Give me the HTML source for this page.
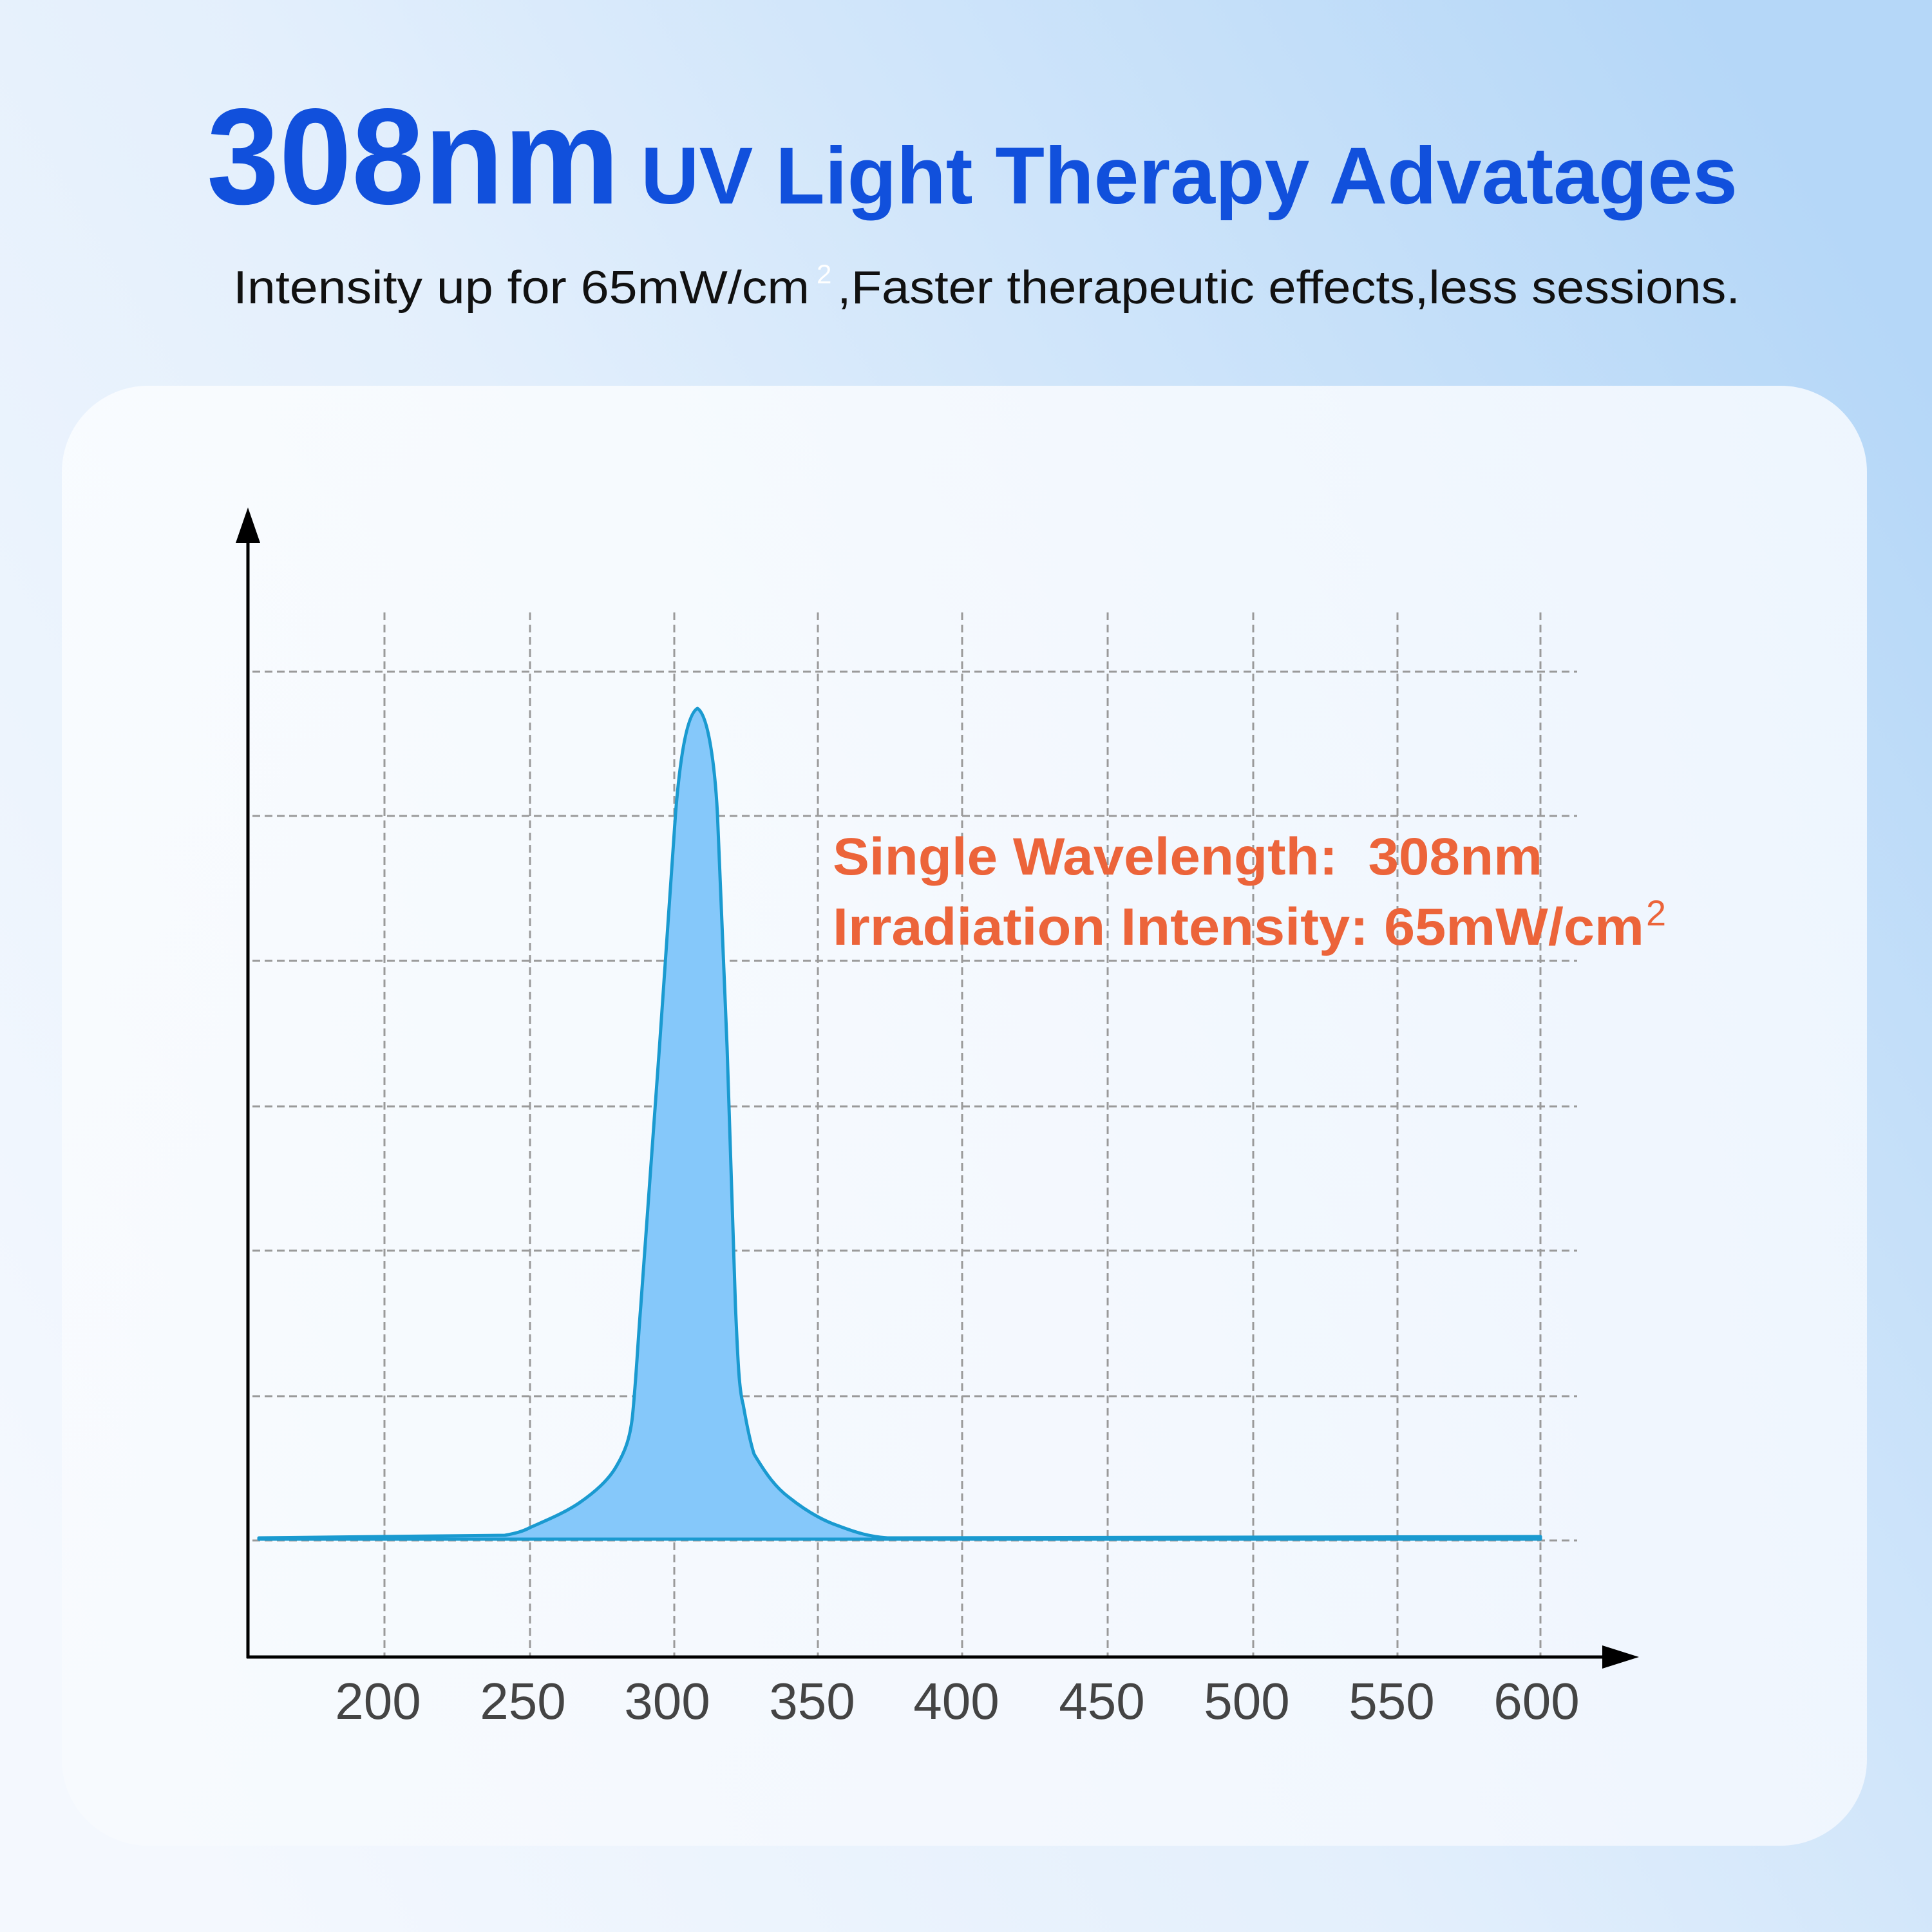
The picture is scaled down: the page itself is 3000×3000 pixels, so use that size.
<!DOCTYPE html>
<html><head><meta charset="utf-8"><style>
html,body{margin:0;padding:0;width:3000px;height:3000px;overflow:hidden}
body{background:#e6f1fc}
</style></head><body>
<svg width="3000" height="3000" viewBox="0 0 3000 3000" xmlns="http://www.w3.org/2000/svg" style="position:absolute;left:0;top:0">
<defs>
<linearGradient id="bg" x1="0" y1="0.8" x2="1" y2="0.2">
<stop offset="0" stop-color="#f4f8fe"/><stop offset="0.45" stop-color="#e3effc"/><stop offset="0.8" stop-color="#c6e0f9"/><stop offset="1" stop-color="#b5d7f8"/>
</linearGradient>
<linearGradient id="card" x1="0" y1="0" x2="1" y2="1">
<stop offset="0" stop-color="#fbfdff" stop-opacity="0.85"/><stop offset="1" stop-color="#f4f8fe" stop-opacity="0.85"/>
</linearGradient>
</defs>
<rect width="3000" height="3000" fill="url(#bg)"/>
<rect x="96" y="599" width="2803" height="2267" rx="134" fill="url(#card)"/>
<text x="321" y="316" font-family="Liberation Sans, sans-serif" font-weight="bold" font-size="212" fill="#1150dc" textLength="641" lengthAdjust="spacingAndGlyphs">308nm</text>
<text x="995" y="316" font-family="Liberation Sans, sans-serif" font-weight="bold" font-size="125" fill="#1150dc" textLength="1703" lengthAdjust="spacingAndGlyphs">UV Light Therapy Advatages</text>
<text x="362" y="471" font-family="Liberation Sans, sans-serif" font-size="72" fill="#111" textLength="895" lengthAdjust="spacingAndGlyphs">Intensity up for 65mW/cm</text>
<text x="1268" y="440" font-family="Liberation Sans, sans-serif" font-size="42" fill="#ffffff">2</text>
<text x="1300" y="471" font-family="Liberation Sans, sans-serif" font-size="72" fill="#111" textLength="1402" lengthAdjust="spacingAndGlyphs">,Faster therapeutic effects,less sessions.</text>
<g stroke="#9a9a9a" stroke-width="3" stroke-dasharray="12,7" fill="none">
<line x1="392" y1="1043" x2="2449" y2="1043"/><line x1="392" y1="1267" x2="2449" y2="1267"/>
<line x1="392" y1="1492" x2="2449" y2="1492"/><line x1="392" y1="1718" x2="2449" y2="1718"/>
<line x1="392" y1="1942" x2="2449" y2="1942"/><line x1="392" y1="2168" x2="2449" y2="2168"/>
<line x1="392" y1="2392" x2="2449" y2="2392"/>
<line x1="597" y1="951" x2="597" y2="2573"/><line x1="823" y1="951" x2="823" y2="2573"/>
<line x1="1047" y1="951" x2="1047" y2="2573"/><line x1="1270" y1="951" x2="1270" y2="2573"/>
<line x1="1494" y1="951" x2="1494" y2="2573"/><line x1="1720" y1="951" x2="1720" y2="2573"/>
<line x1="1946" y1="951" x2="1946" y2="2573"/><line x1="2170" y1="951" x2="2170" y2="2573"/>
<line x1="2392" y1="951" x2="2392" y2="2573"/>
</g>
<path d="M402,2388 L784,2384 C800,2381 812,2378 823,2372 C850,2360 875,2350 899,2334 C925,2316 945,2298 957,2277 C970,2255 978,2235 982,2200 C988,2140 990,2090 995,2028 L1024,1626 L1049,1263 C1055,1190 1065,1110 1083,1100 C1100,1110 1110,1190 1114,1263 L1129,1626 L1142,2028 C1146,2120 1148,2160 1154,2181 C1160,2215 1165,2240 1171,2258 C1190,2290 1205,2310 1225,2325 C1250,2345 1275,2360 1301,2369 C1330,2380 1350,2386 1378,2388 L2392,2386 L2392,2390 L402,2390 Z" fill="#85c8fa" stroke="#1a9ad0" stroke-width="5" stroke-linejoin="round"/>
<g stroke="#000" stroke-width="5" fill="none"><line x1="385" y1="820" x2="385" y2="2575"/><line x1="383" y1="2573" x2="2500" y2="2573"/></g>
<polygon points="385,788 366,843 404,843" fill="#000"/>
<polygon points="2545,2573 2488,2555 2488,2591" fill="#000"/>
<g font-family="Liberation Sans, sans-serif" font-size="80" fill="#444" text-anchor="middle">
<text x="587" y="2669">200</text><text x="812" y="2669">250</text><text x="1036" y="2669">300</text>
<text x="1261" y="2669">350</text><text x="1485" y="2669">400</text><text x="1711" y="2669">450</text>
<text x="1936" y="2669">500</text><text x="2161" y="2669">550</text><text x="2386" y="2669">600</text>
</g>
<g font-family="Liberation Sans, sans-serif" font-weight="bold" font-size="82" fill="#ec643a">
<text x="1293" y="1358" textLength="1102" lengthAdjust="spacingAndGlyphs" xml:space="preserve">Single Wavelength:  308nm</text>
<text x="1293" y="1467" textLength="1260" lengthAdjust="spacingAndGlyphs">Irradiation Intensity: 65mW/cm</text>
<text x="2556" y="1437" font-size="56" font-weight="normal">2</text>
</g>
</svg>
</body></html>
